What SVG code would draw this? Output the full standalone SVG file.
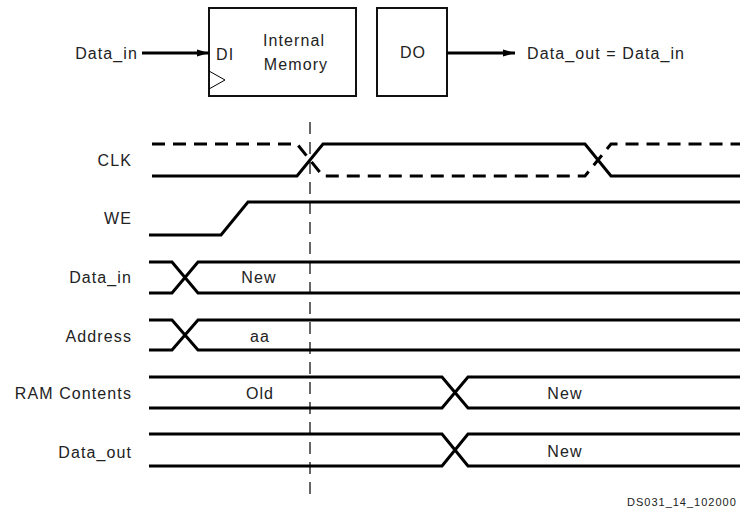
<svg xmlns="http://www.w3.org/2000/svg" width="740" height="510" viewBox="0 0 740 510">
<defs>
<style>
text{font-family:"Liberation Sans",Arial,sans-serif;font-size:16px;fill:#222;letter-spacing:1.1px}
.lbl{text-anchor:end}
.mid{text-anchor:middle}
.box{fill:none;stroke:#111;stroke-width:2}
.sig{fill:none;stroke:#000;stroke-width:3;stroke-linejoin:miter}
.dsig{fill:none;stroke:#000;stroke-width:3;stroke-dasharray:13,8}
.vdash{fill:none;stroke:#000;stroke-width:1.2;stroke-dasharray:12,8}
.wire{fill:none;stroke:#000;stroke-width:3}
</style>
<marker id="ah" markerWidth="12" markerHeight="8" refX="12" refY="4" orient="auto" markerUnits="userSpaceOnUse">
<path d="M0,0.5 L12,4 L0,7.5 Z" fill="#000"/>
</marker>
</defs>
<rect width="740" height="510" fill="#fff"/>

<g id="node-mem">
<rect class="box" x="209" y="8" width="147" height="88"/>
<path d="M209,71 L225,80 L209,89" fill="none" stroke="#000" stroke-width="1"/>
<text x="216" y="60">DI</text>
<text class="mid" x="294" y="46">Internal</text>
<text class="mid" x="296" y="70">Memory</text>
</g>
<g id="node-do">
<rect class="box" x="377" y="8" width="70" height="88"/>
<text class="mid" x="413" y="58">DO</text>
</g>
<g id="node-datain-label">
<text class="lbl" x="138" y="59">Data_in</text>
</g>
<g id="node-dataout-label">
<text x="527" y="59">Data_out = Data_in</text>
</g>

<g id="connectors">
<line class="wire" x1="142" y1="53" x2="209" y2="53" marker-end="url(#ah)"/>
<line class="wire" x1="447" y1="53" x2="515" y2="53" marker-end="url(#ah)"/>
</g>

<g id="signal-labels">
<text class="lbl" x="132" y="166">CLK</text>
<text class="lbl" x="132" y="224">WE</text>
<text class="lbl" x="132" y="283">Data_in</text>
<text class="lbl" x="132" y="342">Address</text>
<text class="lbl" x="132" y="399">RAM Contents</text>
<text class="lbl" x="132" y="458">Data_out</text>
</g>

<g id="waveforms">
<path class="dsig" d="M152,144 H297 L323,176 H585 L611,144 H740"/>
<path class="sig" d="M152,176 H297 L323,144 H585 L611,176 H740"/>
<path class="sig" d="M149,235 H221 L248,202 H740"/>
<path class="sig" d="M149,262 H172 L198,293 H740 M149,293 H172 L198,262 H740"/>
<path class="sig" d="M149,320 H172 L198,350 H740 M149,350 H172 L198,320 H740"/>
<path class="sig" d="M149,377 H442 L468,408 H740 M149,408 H442 L468,377 H740"/>
<path class="sig" d="M149,434 H442 L468,466 H740 M149,466 H442 L468,434 H740"/>
<line class="vdash" x1="310" y1="122" x2="310" y2="502"/>
</g>

<g id="bus-values">
<text class="mid" x="259" y="283">New</text>
<text class="mid" x="260" y="342">aa</text>
<text class="mid" x="260" y="399">Old</text>
<text class="mid" x="565" y="399">New</text>
<text class="mid" x="565" y="457">New</text>
</g>
<text x="627" y="506" style="font-size:11px;letter-spacing:1px">DS031_14_102000</text>
</svg>
